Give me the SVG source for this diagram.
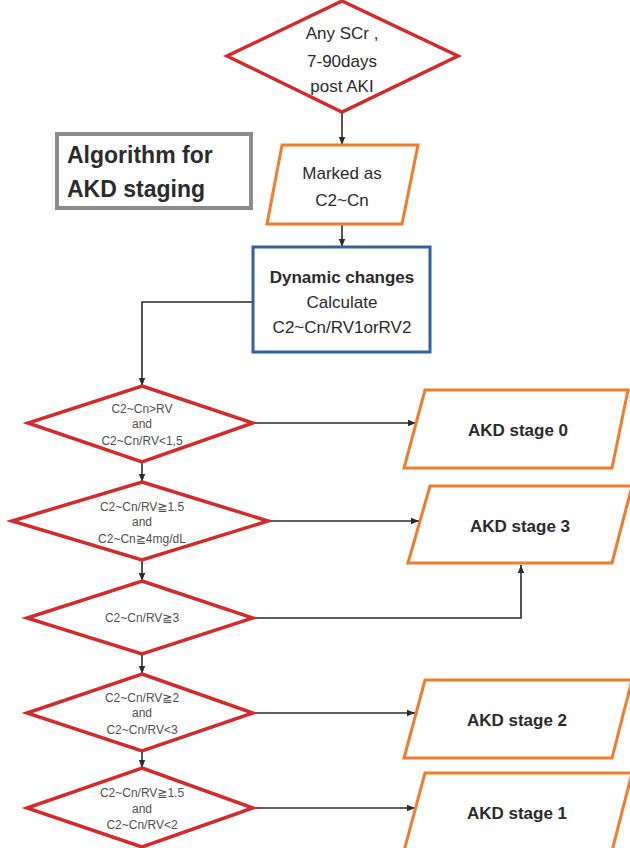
<svg xmlns="http://www.w3.org/2000/svg" width="630" height="848" viewBox="0 0 630 848">
<style>
text{font-family:"Liberation Sans","DejaVu Sans",sans-serif;text-anchor:middle;fill:#2b2b2b}
.dia{fill:#fff;stroke:#d22b2b;stroke-width:3.5;stroke-linejoin:miter}
.par{fill:#fff;stroke:#f07c2c;stroke-width:3}
.box{fill:#fff;stroke:#2f62a6;stroke-width:3}
.ttl{fill:#fff;stroke:#8c8c8c;stroke-width:4}
.big{font-size:17px}
.bold{font-weight:bold}
.sm{font-size:12px;fill:#505050}
.con{fill:none;stroke:#2b2b2b;stroke-width:1.6}
</style>
<defs>
<marker id="ah" viewBox="0 0 10 10" refX="10" refY="5" markerWidth="8" markerHeight="8" markerUnits="userSpaceOnUse" orient="auto">
<path d="M0,1 L10,5 L0,9 z" fill="#2b2b2b"/>
</marker>
</defs>
<rect width="630" height="848" fill="#fff"/>
<g id="connectors">
<path class="con" d="M342,112 V145" marker-end="url(#ah)"/>
<path class="con" d="M342,224 V247" marker-end="url(#ah)"/>
<path class="con" d="M253,302 H142 V386" marker-end="url(#ah)"/>
<path class="con" d="M253,423 H416" marker-end="url(#ah)"/>
<path class="con" d="M142,462 V482" marker-end="url(#ah)"/>
<path class="con" d="M268,521 H419" marker-end="url(#ah)"/>
<path class="con" d="M142,560 V581" marker-end="url(#ah)"/>
<path class="con" d="M253,618 H521 V565" marker-end="url(#ah)"/>
<path class="con" d="M142,654 V674" marker-end="url(#ah)"/>
<path class="con" d="M253,713 H415" marker-end="url(#ah)"/>
<path class="con" d="M142,751 V768" marker-end="url(#ah)"/>
<path class="con" d="M253,808 H415" marker-end="url(#ah)"/>
</g>
<g id="start">
<polygon class="dia" points="342,1 458,56 342,112 227,56"/>
<text class="big" x="342" y="39">Any SCr ,</text>
<text class="big" x="342" y="67">7-90days</text>
<text class="big" x="342" y="92">post AKI</text>
</g>
<g id="title">
<rect class="ttl" x="57" y="134" width="194" height="74"/>
<text class="bold" x="67" y="163" style="text-anchor:start;font-size:23px">Algorithm for</text>
<text class="bold" x="67" y="197" style="text-anchor:start;font-size:23px">AKD staging</text>
</g>
<g id="marked">
<polygon class="par" points="282,145 418,145 402,224 267,224"/>
<text class="big" x="342" y="179">Marked as</text>
<text class="big" x="342" y="206">C2~Cn</text>
</g>
<g id="dynamic">
<rect class="box" x="253" y="247" width="177" height="105"/>
<text class="big bold" x="342" y="283">Dynamic changes</text>
<text class="big" x="342" y="308">Calculate</text>
<text class="big" x="342" y="333">C2~Cn/RV1orRV2</text>
</g>
<g id="d1">
<polygon class="dia" points="142,386 253,423 142,462 28,423"/>
<text class="sm" x="142" y="413">C2~Cn&gt;RV</text>
<text class="sm" x="142" y="428">and</text>
<text class="sm" x="142" y="445">C2~Cn/RV&lt;1,5</text>
</g>
<g id="d2">
<polygon class="dia" points="142,482 268,521 142,560 12,521"/>
<text class="sm" x="142" y="511">C2~Cn/RV≧1.5</text>
<text class="sm" x="142" y="526">and</text>
<text class="sm" x="142" y="543">C2~Cn≧4mg/dL</text>
</g>
<g id="d3">
<polygon class="dia" points="142,581 253,618 142,654 27,618"/>
<text class="sm" x="142" y="622">C2~Cn/RV≧3</text>
</g>
<g id="d4">
<polygon class="dia" points="142,674 253,713 142,751 27,713"/>
<text class="sm" x="142" y="702">C2~Cn/RV≧2</text>
<text class="sm" x="142" y="717">and</text>
<text class="sm" x="142" y="734">C2~Cn/RV&lt;3</text>
</g>
<g id="d5">
<polygon class="dia" points="142,768 253,808 142,847 27,808"/>
<text class="sm" x="142" y="797">C2~Cn/RV≧1.5</text>
<text class="sm" x="142" y="813">and</text>
<text class="sm" x="142" y="829">C2~Cn/RV&lt;2</text>
</g>
<g id="s0">
<polygon class="par" points="425,390 628,390 612,468 404,468"/>
<text class="big bold" x="518" y="436">AKD stage 0</text>
</g>
<g id="s3">
<polygon class="par" points="430,486 632,486 612,563 408,563"/>
<text class="big bold" x="520" y="532">AKD stage 3</text>
</g>
<g id="s2">
<polygon class="par" points="425,680 632,680 612,758 404,758"/>
<text class="big bold" x="517" y="726">AKD stage 2</text>
</g>
<g id="s1">
<polygon class="par" points="425,773 632,773 612,851 404,851"/>
<text class="big bold" x="517" y="819">AKD stage 1</text>
</g>
</svg>
